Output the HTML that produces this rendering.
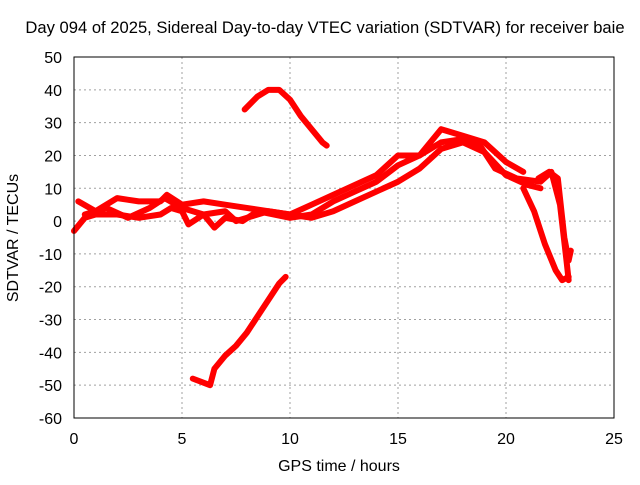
<!DOCTYPE html>
<html><head><meta charset="utf-8"><style>
body{margin:0;background:#fff}
svg text{font-family:"Liberation Sans",sans-serif;font-size:16px;fill:#000}
</style></head><body>
<svg id="c" width="640" height="480">
<text x="325" y="33" text-anchor="middle" style="font-size:16.6px">Day 094 of 2025, Sidereal Day-to-day VTEC variation (SDTVAR) for receiver baie</text>
<text x="339" y="471" text-anchor="middle">GPS time / hours</text>
<text transform="translate(18,238) rotate(-90)" text-anchor="middle">SDTVAR / TECUs</text>
<g id="grid"></g><g id="series"></g>
<rect x="74" y="57" width="540" height="361" fill="none" stroke="#000" stroke-width="1"/>
</svg>
<script>
const xTicks=[0,5,10,15,20,25];
const yTicks=[50,40,30,20,10,0,-10,-20,-30,-40,-50,-60];
const track1=[[0.2,6],[1,3],[2,7],[3,6],[4,6],[4.3,8],[5,5],[6,6],[7,5],[8,4],[9,3],[10,2],[11,5],[12,8],[13,11],[14,14],[15,20],[16,20],[17,28],[18,26],[19,24],[20,18],[20.8,15]];
const track2=[[0,-3],[0.5,1],[1,2],[2,2],[3,1],[4,2],[4.5,4],[5,3],[5.3,-1],[6,2],[7,3],[7.5,0],[8,1],[9,3],[10,2],[11,1],[12,3],[13,6],[14,9],[15,12],[16,16],[17,22],[18,24],[19,21],[20,14],[21,11],[21.6,10]];
const track3=[[0.5,2],[1.5,4],[2.5,1],[3.5,4],[4.2,7],[5,4],[6,2],[6.5,-2],[7,1],[7.8,0],[8.5,3],[10,1],[11,2],[12,6],[13,9],[14,12],[15,17],[16,20],[17,24],[18,25],[18.8,23],[19.5,16],[20.5,13],[21.6,12],[22.1,15],[22.5,5],[22.8,-12],[22.9,-18]];
const track4=[[21.5,13],[22,15],[22.4,13],[22.7,-5],[22.9,-12],[23,-9]];
const track5=[[20.8,10],[21.3,3],[21.8,-7],[22.3,-15],[22.6,-18],[22.9,-17]];
const track6=[[7.9,34],[8.5,38],[9,40],[9.5,40],[10,37],[10.5,32],[11,28],[11.5,24],[11.7,23]];
const track7=[[5.5,-48],[6.3,-50],[6.5,-45],[7,-41],[7.5,-38],[8,-34],[8.5,-29],[9,-24],[9.5,-19],[9.8,-17]];
const tracks=[track1,track2,track3,track4,track5,track6,track7];
const NS='http://www.w3.org/2000/svg';
const X=h=>74+h/25*540, Y=v=>57+(50-v)/110*361;
const grid=document.getElementById('grid'), ser=document.getElementById('series');
function mk(tag,at,parent){const e=document.createElementNS(NS,tag);for(const k in at)e.setAttribute(k,at[k]);parent.appendChild(e);return e;}
xTicks.forEach(t=>{
  if(t>0&&t<25){const l=mk('line',{x1:X(t),x2:X(t),y1:57,y2:418,stroke:'#a0a0a0','stroke-dasharray':'2,3'},grid);
  
  }
  const tx=mk('text',{x:X(t),y:444,'text-anchor':'middle'},grid);tx.textContent=t;
  
  
});
yTicks.forEach(t=>{
  if(t<50&&t>-60){const l=mk('line',{x1:74,x2:614,y1:Y(t),y2:Y(t),stroke:'#a0a0a0','stroke-dasharray':'2,3'},grid);
  
  }
  const tx=mk('text',{x:62,y:Y(t)+6,'text-anchor':'end'},grid);tx.textContent=t;
  
  
});
tracks.forEach(tr=>{
  const p=mk('polyline',{points:tr.map(d=>X(d[0])+','+Y(d[1])).join(' '),fill:'none',stroke:'#ff0000','stroke-width':6,'stroke-linejoin':'round','stroke-linecap':'round'},ser);
  
  
});
</script>
</body></html>
